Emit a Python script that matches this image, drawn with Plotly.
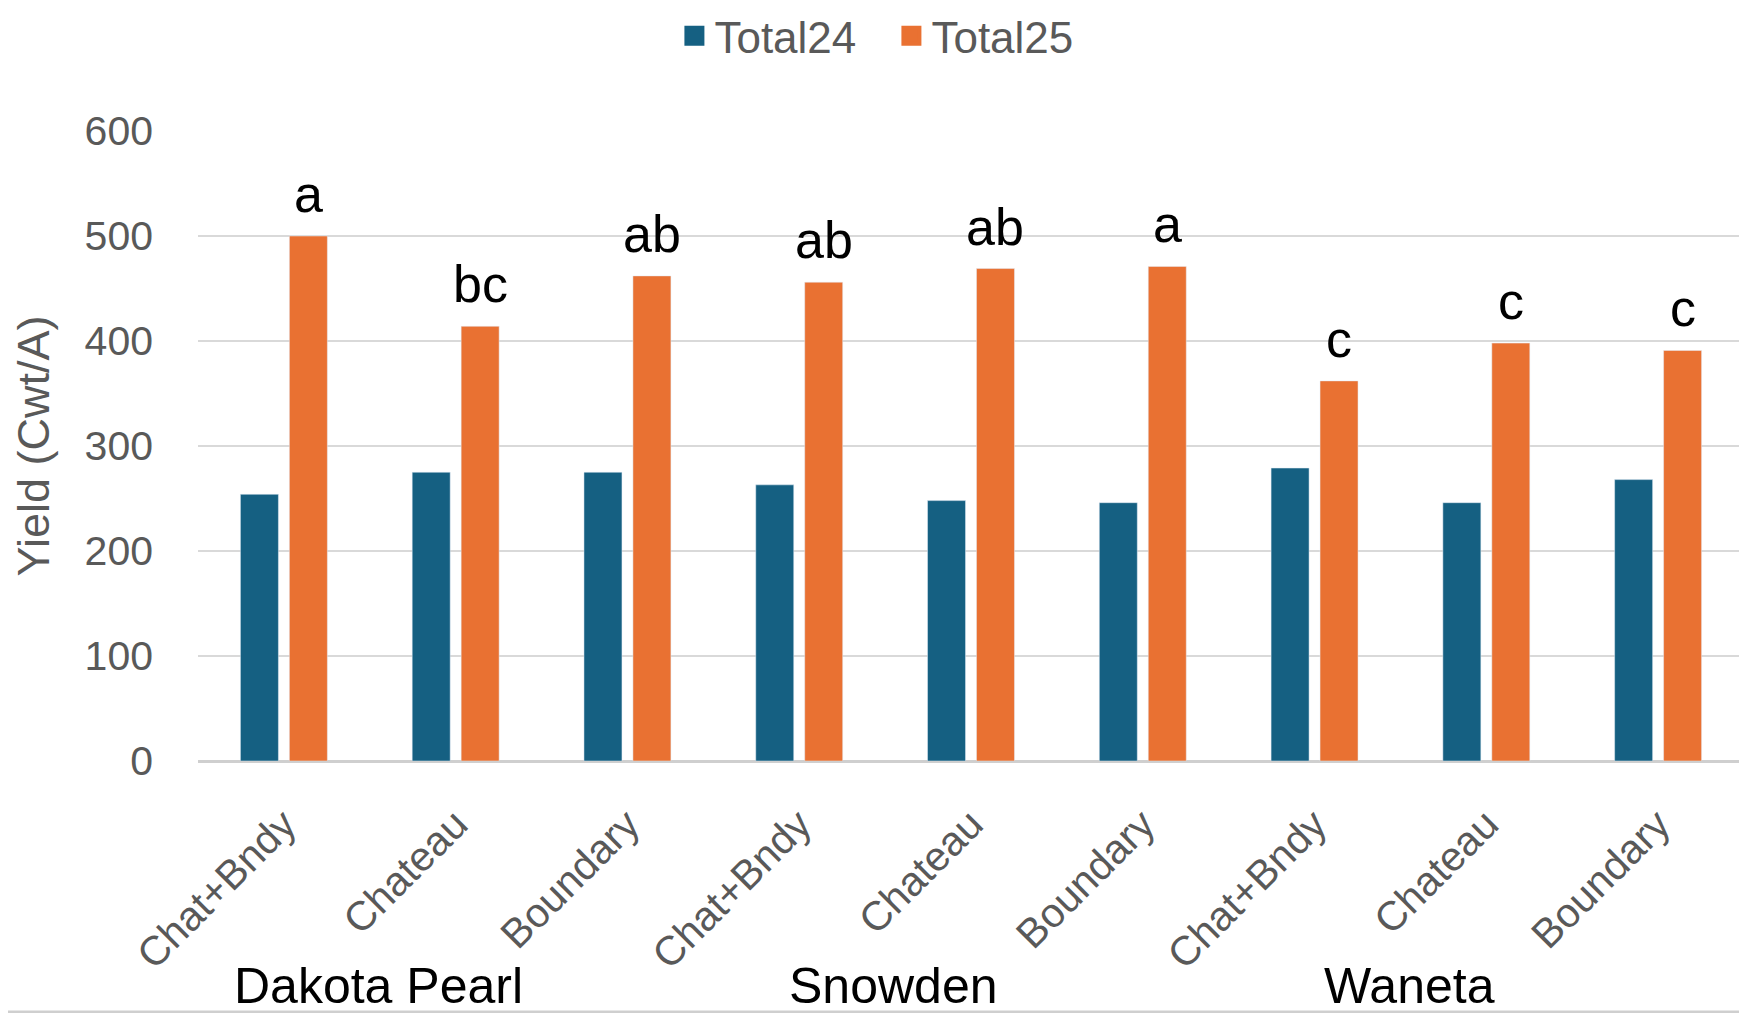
import plotly.graph_objects as go

# ---- data ----
varieties = ["Dakota Pearl", "Snowden", "Waneta"]
treatments = ["Chat+Bndy", "Chateau", "Boundary"]
total24 = [254, 275, 275, 263, 248, 246, 279, 246, 268]
total25 = [500, 414, 462, 456, 469, 471, 362, 398, 391]
letters = ["a", "bc", "ab", "ab", "ab", "a", "c", "c", "c"]
y_ticks = [0, 100, 200, 300, 400, 500, 600]

tick_labels = [t for v in varieties for t in treatments]
xpos = list(range(len(tick_labels)))

BLUE = "#156082"
ORANGE = "#E97132"
GRAY = "#595959"
FONT = "Liberation Sans"

# page body has an 8px margin, so the figure is sized to fit the window
W, H = 1739, 1005
ML, MR, MT, MB = 190, 3, 123, 252
BARGAP = 0.43
BARGROUPGAP = 0.224

fig = go.Figure()
fig.add_trace(go.Bar(x=xpos, y=total24, name="Total24", marker_color=BLUE,
                     showlegend=False))
fig.add_trace(go.Bar(x=xpos, y=total25, name="Total25", marker_color=ORANGE,
                     showlegend=False))
# legend entries (larger swatches)
for nm, col in [("Total24", BLUE), ("Total25", ORANGE)]:
    fig.add_trace(go.Scatter(x=[None], y=[None], mode="markers", name=nm,
                             marker=dict(symbol="square", size=16, color=col,
                                         line=dict(color=col, width=4))))

# significance letters above Total25 bars
cat_w = (W - ML - MR) / len(xpos)
orange_shift = cat_w * (1 - BARGAP) / 4
for i, (v, t) in enumerate(zip(total25, letters)):
    fig.add_annotation(x=xpos[i], y=v, text=t, xref="x", yref="y",
                       xanchor="center", yanchor="bottom", xshift=orange_shift,
                       yshift=11, showarrow=False,
                       font=dict(family=FONT, size=52, color="black"))

# variety group labels
n_t = len(treatments)
for g, name in enumerate(varieties):
    fig.add_annotation(x=g * n_t + 0.55, y=-0.357, xref="x", yref="paper",
                       text=name, showarrow=False, xanchor="center",
                       yanchor="middle",
                       font=dict(family=FONT, size=50, color="black"))

# bottom border line
ph = H - MT - MB
fig.add_shape(type="line", xref="paper", yref="paper",
              x0=-ML / (W - ML - MR), x1=1 + MR / (W - ML - MR),
              y0=-(MB - 1) / ph, y1=-(MB - 1) / ph,
              line=dict(color="#cfcfcf", width=3))

fig.update_layout(
    width=W, height=H,
    margin=dict(l=ML, r=MR, t=MT, b=MB, autoexpand=False),
    paper_bgcolor="white", plot_bgcolor="white",
    barmode="group", bargap=BARGAP, bargroupgap=BARGROUPGAP,
    font=dict(family=FONT, color=GRAY),
    legend=dict(orientation="h", xref="container", yref="container",
                x=0.508, xanchor="center", y=0.972, yanchor="middle",
                font=dict(family=FONT, size=44, color=GRAY),
                itemwidth=30, entrywidth=172, tracegroupgap=0),
)
fig.update_xaxes(tickmode="array", tickvals=xpos, ticktext=tick_labels,
                 tickangle=-45, tickfont=dict(family=FONT, size=41, color=GRAY),
                 ticks="", ticklabelstandoff=30, showgrid=False,
                 showline=False, zeroline=False,
                 range=[-0.5, len(xpos) - 0.5])
fig.update_yaxes(range=[0, 600], tickvals=y_ticks,
                 tickfont=dict(family=FONT, size=41, color=GRAY),
                 ticks="", ticklabelstandoff=44,
                 showgrid=True, gridcolor="#d9d9d9", gridwidth=2,
                 zeroline=True, zerolinecolor="#cfcfcf", zerolinewidth=3,
                 showline=False,
                 title=dict(text="Yield (Cwt/A)", standoff=26,
                            font=dict(family=FONT, size=45, color=GRAY)))

fig.write_html("out.html")
